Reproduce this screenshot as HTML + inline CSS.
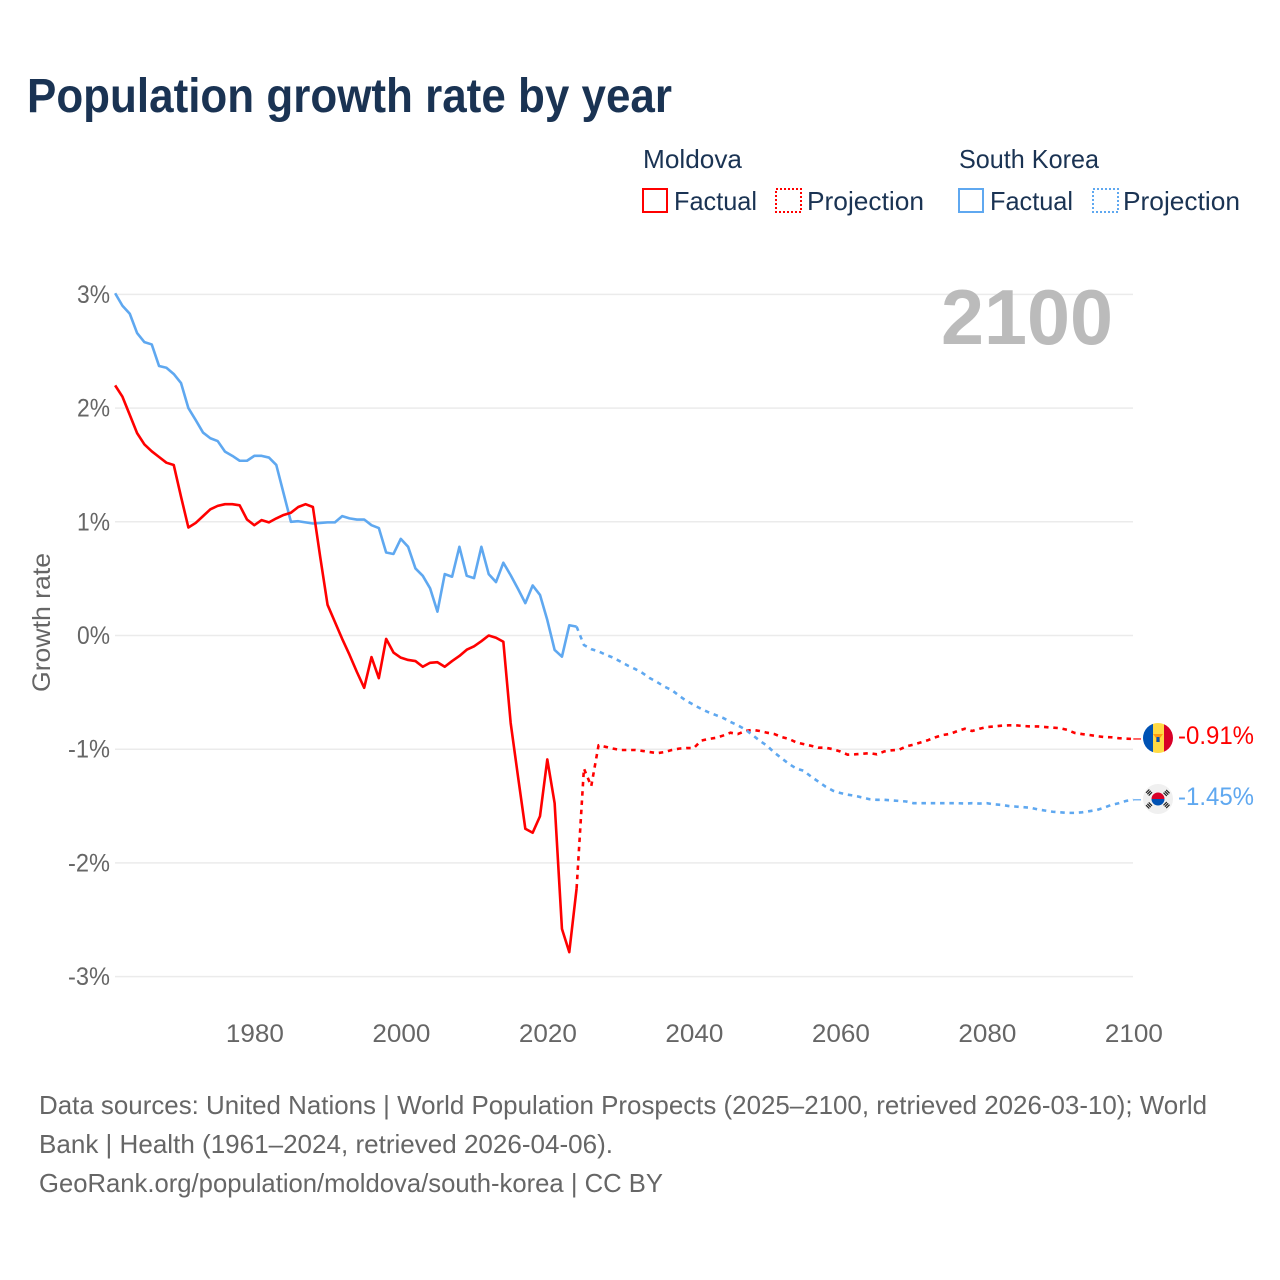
<!DOCTYPE html>
<html lang="en">
<head>
<meta charset="utf-8">
<title>Population growth rate by year</title>
<style>
html,body{margin:0;padding:0;background:#fff;}
svg{display:block;font-family:"Liberation Sans",sans-serif;}
</style>
</head>
<body>
<svg id="chart" xmlns="http://www.w3.org/2000/svg" width="1280" height="1280" viewBox="0 0 1280 1280">
  <rect width="1280" height="1280" fill="#fff"/>
  <text x="27" y="112" font-size="48" font-weight="700" fill="#1a3353" textLength="645" lengthAdjust="spacingAndGlyphs">Population growth rate by year</text>

  <g font-size="26" fill="#1a3353">
    <text x="643" y="168" textLength="99" lengthAdjust="spacingAndGlyphs">Moldova</text>
    <text x="959" y="168" textLength="140" lengthAdjust="spacingAndGlyphs">South Korea</text>
    <rect x="643" y="189" width="24" height="23" fill="none" stroke="#ff0000" stroke-width="2"/>
    <text x="674" y="210" textLength="83" lengthAdjust="spacingAndGlyphs">Factual</text>
    <rect x="776" y="189" width="25" height="23" fill="none" stroke="#ff0000" stroke-width="2" stroke-dasharray="2 2"/>
    <text x="807" y="210" textLength="117" lengthAdjust="spacingAndGlyphs">Projection</text>
    <rect x="959" y="189" width="24" height="23" fill="none" stroke="#5fa8f0" stroke-width="2"/>
    <text x="990" y="210" textLength="83" lengthAdjust="spacingAndGlyphs">Factual</text>
    <rect x="1093" y="189" width="25" height="23" fill="none" stroke="#5fa8f0" stroke-width="2" stroke-dasharray="2 2"/>
    <text x="1123" y="210" textLength="117" lengthAdjust="spacingAndGlyphs">Projection</text>
  </g>

  <text transform="translate(50,692) rotate(-90)" font-size="25" fill="#666" textLength="139" lengthAdjust="spacingAndGlyphs">Growth rate</text>

  <g id="grid"></g>
  <g id="yticks" font-size="25" fill="#666" text-anchor="end"></g>
  <g id="xticks" font-size="25" fill="#666" text-anchor="middle"></g>

  <text x="941" y="344" font-size="78" font-weight="700" fill="#bbbbbb" textLength="172" lengthAdjust="spacingAndGlyphs">2100</text>

  <g id="series" fill="none" stroke-linejoin="round"></g>

  <g>
    <clipPath id="clipMd"><circle cx="1158" cy="738" r="15"/></clipPath>
    <g clip-path="url(#clipMd)">
      <rect x="1143" y="723" width="10" height="30" fill="#0052b4"/>
      <rect x="1153" y="723" width="11" height="30" fill="#ffda44"/>
      <rect x="1164" y="723" width="10" height="30" fill="#d80027"/>
      <path d="M1153 734h10l-3 4v4h-4v-4z" fill="#ff9811"/>
      <rect x="1156.5" y="737" width="3" height="5" fill="#0052b4"/>
    </g>
  </g>
  <g>
    <circle cx="1158" cy="799" r="15" fill="#f0f0f0"/>
    <path d="M1151.5 799a6.5 6.5 0 0 1 13 0z" fill="#d80027"/>
    <path d="M1151.5 799a6.5 6.5 0 0 0 13 0z" fill="#0052b4"/>
    <g stroke="#222" stroke-width="2.6" stroke-dasharray="1.2 .7" fill="none">
      <path d="M1148 790l4 4M1146.5 791.5l4 4M1164 794l4-4M1165.5 795.5l4-4M1148 808l4-4M1146.5 806.5l4-4M1164 804l4 4M1165.5 802.5l4 4"/>
    </g>
  </g>
  <text x="1178" y="744" font-size="25" fill="#ff0000" textLength="76" lengthAdjust="spacingAndGlyphs">-0.91%</text>
  <text x="1178" y="805" font-size="25" fill="#5fa8f0" textLength="76" lengthAdjust="spacingAndGlyphs">-1.45%</text>

  <g font-size="26" fill="#666">
    <text x="39" y="1114" textLength="1168" lengthAdjust="spacingAndGlyphs">Data sources: United Nations | World Population Prospects (2025–2100, retrieved 2026-03-10); World</text>
    <text x="39" y="1153" textLength="574" lengthAdjust="spacingAndGlyphs">Bank | Health (1961–2024, retrieved 2026-04-06).</text>
    <text x="39" y="1192" textLength="624" lengthAdjust="spacingAndGlyphs">GeoRank.org/population/moldova/south-korea | CC BY</text>
  </g>
</svg>
<script>
const yTickValues = [3, 2, 1, 0, -1, -2, -3];
const yTickLabels = ["3%", "2%", "1%", "0%", "-1%", "-2%", "-3%"];
const xTickValues = [1980, 2000, 2020, 2040, 2060, 2080, 2100];
const xTickLabels = ["1980", "2000", "2020", "2040", "2060", "2080", "2100"];
const factualStartYear = 1961;
const projectionStartYear = 2024;
const moldovaFactual = [2.2,2.1,1.94,1.78,1.68,1.62,1.57,1.52,1.5,1.22,0.95,0.99,1.05,1.11,1.14,1.155,1.155,1.145,1.02,0.97,1.015,0.995,1.03,1.06,1.08,1.13,1.155,1.13,0.69,0.27,0.12,-0.03,-0.17,-0.32,-0.46,-0.19,-0.375,-0.03,-0.15,-0.195,-0.215,-0.225,-0.275,-0.24,-0.235,-0.275,-0.225,-0.18,-0.125,-0.095,-0.05,0,-0.02,-0.055,-0.77,-1.24,-1.7,-1.735,-1.59,-1.09,-1.475,-2.58,-2.785,-2.225];
const koreaFactual = [3.01,2.9,2.83,2.66,2.58,2.56,2.37,2.355,2.3,2.22,2,1.895,1.785,1.735,1.71,1.617,1.58,1.537,1.537,1.58,1.58,1.565,1.5,1.25,1,1.005,0.995,0.985,0.99,0.995,0.995,1.05,1.03,1.02,1.02,0.97,0.945,0.73,0.717,0.85,0.78,0.59,0.525,0.415,0.21,0.54,0.517,0.78,0.525,0.505,0.78,0.54,0.47,0.64,0.53,0.41,0.285,0.44,0.357,0.136,-0.127,-0.186,0.09,0.078];
const moldovaProjection = [-2.225,-1.17,-1.325,-0.965,-0.98,-0.995,-1.007,-1.007,-1.007,-1.015,-1.025,-1.035,-1.025,-1.007,-0.995,-0.99,-0.99,-0.925,-0.91,-0.9,-0.88,-0.855,-0.867,-0.84,-0.83,-0.84,-0.855,-0.867,-0.893,-0.91,-0.94,-0.955,-0.97,-0.987,-0.987,-1,-1.02,-1.048,-1.045,-1.04,-1.035,-1.045,-1.02,-1.01,-1.005,-0.975,-0.96,-0.94,-0.92,-0.895,-0.875,-0.865,-0.84,-0.82,-0.84,-0.82,-0.805,-0.8,-0.793,-0.79,-0.79,-0.796,-0.8,-0.8,-0.805,-0.81,-0.815,-0.83,-0.857,-0.867,-0.875,-0.885,-0.893,-0.895,-0.903,-0.907,-0.91];
const koreaProjection = [0.078,-0.084,-0.12,-0.14,-0.17,-0.195,-0.23,-0.265,-0.295,-0.33,-0.375,-0.41,-0.45,-0.48,-0.53,-0.575,-0.61,-0.645,-0.675,-0.7,-0.725,-0.76,-0.79,-0.825,-0.875,-0.925,-0.97,-1.03,-1.08,-1.13,-1.17,-1.19,-1.24,-1.285,-1.33,-1.365,-1.385,-1.4,-1.41,-1.425,-1.44,-1.445,-1.445,-1.45,-1.455,-1.46,-1.475,-1.475,-1.475,-1.475,-1.475,-1.475,-1.475,-1.478,-1.475,-1.478,-1.475,-1.485,-1.49,-1.5,-1.505,-1.51,-1.515,-1.53,-1.54,-1.55,-1.555,-1.56,-1.56,-1.555,-1.545,-1.535,-1.515,-1.49,-1.475,-1.455,-1.445];

const NS = "http://www.w3.org/2000/svg";
function xScale(year) { return 254.3 + (year - 1980) * 7.325; }
function yScale(value) { return 635.5 - value * 113.7; }
function make(tag, parent, attrs) {
  const el = document.createElementNS(NS, tag);
  for (const k in attrs) el.setAttribute(k, attrs[k]);
  parent.appendChild(el);
  return el;
}
const gridG = document.getElementById("grid");
const yTickG = document.getElementById("yticks");
const xTickG = document.getElementById("xticks");
const seriesG = document.getElementById("series");

yTickValues.forEach(function (v, i) {
  const line = make("line", gridG, { x1: 115, x2: 1133, y1: yScale(v), y2: yScale(v), stroke: "#ebebeb", "stroke-width": 1.5 });
  
  
  const t = make("text", yTickG, { x: 110, y: yScale(v) + 8.5, textLength: yTickLabels[i].length > 2 ? 42 : 33, lengthAdjust: "spacingAndGlyphs" });
  t.textContent = yTickLabels[i];
  
  
});
xTickValues.forEach(function (v, i) {
  const t = make("text", xTickG, { x: xScale(v) + 0.6, y: 1042, textLength: 58, lengthAdjust: "spacingAndGlyphs" });
  t.textContent = xTickLabels[i];
  
  
});
function pathFrom(values, startYear) {
  return values.map(function (v, i) {
    return (i ? "L" : "M") + xScale(startYear + i).toFixed(2) + " " + yScale(v).toFixed(2);
  }).join("");
}
const projMd = make("path", seriesG, { d: pathFrom(moldovaProjection, projectionStartYear), stroke: "#ff0000", "stroke-width": 2.6, "stroke-dasharray": "4.5 4.8" });


const projKr = make("path", seriesG, { d: pathFrom(koreaProjection, projectionStartYear), stroke: "#5fa8f0", "stroke-width": 2.6, "stroke-dasharray": "4.5 4.8" });


const factKr = make("path", seriesG, { d: pathFrom(koreaFactual, factualStartYear), stroke: "#5fa8f0", "stroke-width": 2.6 });


const factMd = make("path", seriesG, { d: pathFrom(moldovaFactual, factualStartYear), stroke: "#ff0000", "stroke-width": 2.6 });


const lastMd = moldovaProjection[moldovaProjection.length - 1];
const lastKr = koreaProjection[koreaProjection.length - 1];
const connMd = make("line", seriesG, { x1: xScale(2100), x2: 1141, y1: yScale(lastMd), y2: yScale(lastMd), stroke: "#ff0000", "stroke-width": 1.2 });


const connKr = make("line", seriesG, { x1: xScale(2100), x2: 1141, y1: yScale(lastKr), y2: yScale(lastKr), stroke: "#5fa8f0", "stroke-width": 1.2 });


</script>
</body>
</html>
